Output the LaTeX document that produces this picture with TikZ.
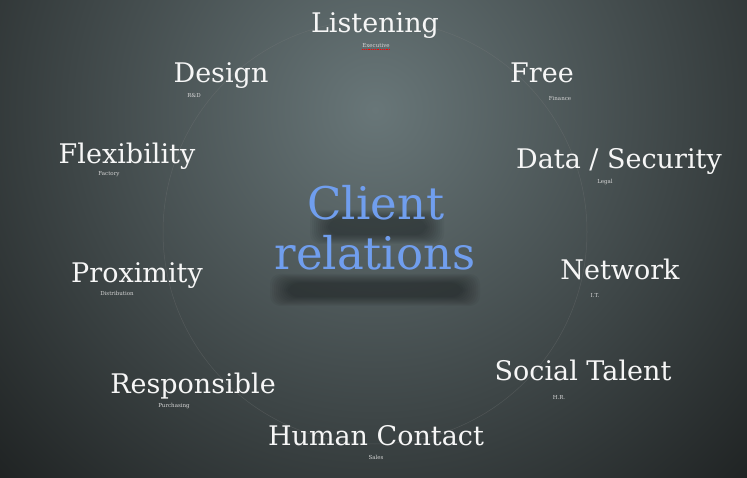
\documentclass[tikz,border=0pt]{standalone}
\usepackage{fontspec}
\setmainfont{DejaVu Serif}
\usetikzlibrary{positioning}
\definecolor{bgdark}{RGB}{20, 22, 22}
\definecolor{bglight}{RGB}{104, 118, 120}
\definecolor{clientblue}{RGB}{112, 158, 238}
\definecolor{labelwhite}{RGB}{246, 246, 246}
\definecolor{subgray}{RGB}{215, 215, 215}

\begin{document}
\begin{tikzpicture}[x=1pt, y=-1pt,
    lbl/.style={anchor=base, text=labelwhite, inner sep=0pt, font=\fontsize{27}{30}\selectfont},
    sublbl/.style={anchor=base, text=subgray, inner sep=0pt, font=\fontsize{5.5}{6}\selectfont},
    centerlbl/.style={anchor=base, text=clientblue, inner sep=0pt, font=\fontsize{45}{50}\selectfont},
    shadowblob/.style={fill=black, opacity=0.04, rounded corners=10pt}]
  \useasboundingbox (0,0) rectangle (747,478);

  % Background
  \fill[bgdark] (0,0) rectangle (747,478);
  \begin{scope}
    \clip (0,0) rectangle (747,478);
    \shade[inner color=bglight, outer color=bgdark] (375,110) circle (610);
  \end{scope}

  % Faint ring
  \draw[gray, opacity=0.3, line width=0.5pt] (375,232) circle (212);

  % Soft shadow under the centre
  \foreach \s in {0,2,...,18} {
    \fill[shadowblob] (310+\s,210+\s/2) rectangle (444-\s,244-\s/2);
    \fill[shadowblob] (270+\s,274+\s/2) rectangle (480-\s,306-\s/2);
  }

  % Centre
  \node[centerlbl] (client) at (376,220) {Client};
  \node[centerlbl] (relations) at (375,270) {relations};

  % Top
  \node[lbl] (listening) at (375,33) {Listening};
  \node[sublbl] (executive) at (376,48) {Executive};
  \draw[red, densely dotted, line width=0.8pt] ([yshift=-1.5pt]executive.base west) -- ([yshift=-1.5pt]executive.base east);

  \node[lbl] (design) at (221,83) {Design};
  \node[sublbl] (rnd) at (194,98) {R\&D};

  \node[lbl] (free) at (542,83) {Free};
  \node[sublbl] (finance) at (560,101) {Finance};

  % Middle
  \node[lbl] (flexibility) at (127,164) {Flexibility};
  \node[sublbl] (factory) at (109,176) {Factory};

  \node[lbl] (datasec) at (619,169) {Data / Security};
  \node[sublbl] (legal) at (605,184) {Legal};

  \node[lbl] (proximity) at (137,283) {Proximity};
  \node[sublbl] (distribution) at (117,296) {Distribution};

  \node[lbl] (network) at (620,280) {Network};
  \node[sublbl] (it) at (595,298) {I.T.};

  % Bottom
  \node[lbl] (responsible) at (193,393) {Responsible};
  \node[sublbl] (purchasing) at (174,407) {Purchasing};

  \node[lbl] (social) at (583,380) {Social Talent};
  \node[sublbl] (hr) at (559,399) {H.R.};

  \node[lbl] (human) at (376,445) {Human Contact};
  \node[sublbl] (sales) at (376,459) {Sales};
\end{tikzpicture}
\end{document}
